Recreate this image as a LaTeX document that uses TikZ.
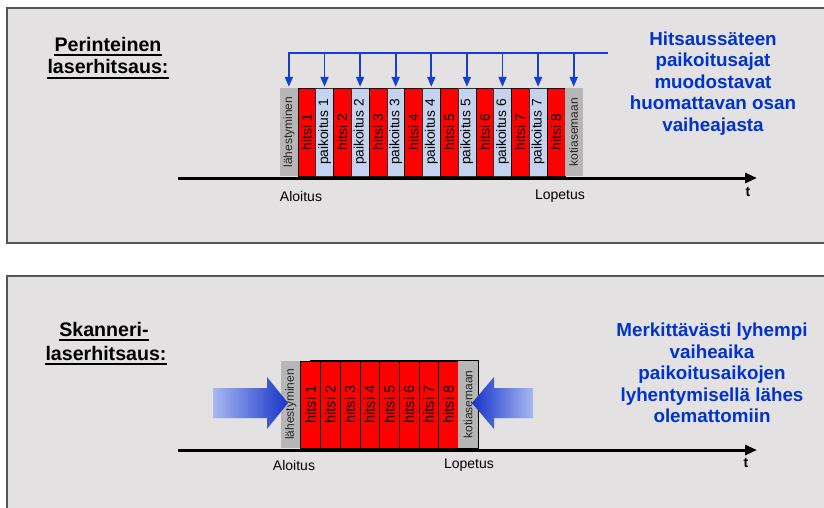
\documentclass[tikz,border=0pt]{standalone}
\usepackage{fontspec}
\setmainfont{Liberation Sans}
\usetikzlibrary{arrows.meta}

\definecolor{panelbg}{RGB}{227,225,226}
\definecolor{panelline}{RGB}{85,85,85}
\definecolor{weldred}{RGB}{255,0,0}
\definecolor{moveblue}{RGB}{197,211,238}
\definecolor{idlegray}{RGB}{182,182,182}
\definecolor{textblue}{RGB}{0,51,204}
\definecolor{arrowblue}{RGB}{20,64,208}
\definecolor{shadelight}{RGB}{168,184,242}
\definecolor{shadedark}{RGB}{22,52,200}

\tikzset{
  panel/.style={fill=panelbg, draw=panelline, line width=1.3pt},
  topbar/.style={minimum width=17.8pt, minimum height=88pt, inner sep=0pt,
    outer sep=0pt, anchor=north west},
  lowbar/.style={minimum width=19.7pt, minimum height=87pt, inner sep=0pt,
    outer sep=0pt, anchor=north west},
  idlebar/.style={fill=idlegray, text=black!85,
    font=\fontsize{12}{12}\selectfont},
  weldbar/.style={fill=weldred, draw=black, line width=0.6pt,
    font=\fontsize{13.8}{14}\selectfont},
  movebar/.style={fill=moveblue, draw=black!80, line width=0.6pt,
    font=\fontsize{13.8}{14}\selectfont},
  bigweld/.style={weldbar, font=\fontsize{14.5}{15}\selectfont},
  timeaxis/.style={line width=3pt, -{Triangle[width=10pt,length=12pt]}},
  rail/.style={draw=arrowblue, line width=1.8pt},
  drop/.style={draw=arrowblue, line width=1.8pt,
    -{Triangle[width=8pt,length=10pt]}, color=arrowblue},
  timelabel/.style={font=\fontsize{14}{14}\selectfont, inner sep=0pt},
  tlabel/.style={font=\bfseries\fontsize{14}{14}\selectfont, inner sep=0pt},
  heading/.style={font=\bfseries\fontsize{19.6}{22}\selectfont, inner sep=0pt,
    anchor=base},
  info/.style={font=\bfseries\fontsize{18.8}{21.5}\selectfont, text=textblue,
    align=center, inner sep=0pt, anchor=north},
  underl/.style={line width=1.9pt},
}

\begin{document}
\begin{tikzpicture}[x=1pt,y=-1pt]
\useasboundingbox (0,0) rectangle (824,508);
\clip (0,0) rectangle (824,508);

% background panels
\draw[panel] (7,8) rectangle (850,243);
\draw[panel] (7,276) rectangle (850,530);

% ---------- conventional laser welding ----------
\node[heading] (h1a) at (108,51.7) {Perinteinen};
\node[heading] (h1b) at (108,74) {laserhitsaus:};
\draw[underl] ([yshift=-3.6pt]h1a.base west) -- ([yshift=-3.6pt]h1a.base east);
\draw[underl] ([yshift=-3.6pt]h1b.base west) -- ([yshift=-3.6pt]h1b.base east);

\foreach \i/\sty/\txt in {0/idlebar/lähestyminen, 1/weldbar/hitsi 1,
    2/movebar/paikoitus 1, 3/weldbar/hitsi 2, 4/movebar/paikoitus 2,
    5/weldbar/hitsi 3, 6/movebar/paikoitus 3, 7/weldbar/hitsi 4,
    8/movebar/paikoitus 4, 9/weldbar/hitsi 5, 10/movebar/paikoitus 5,
    11/weldbar/hitsi 6, 12/movebar/paikoitus 6, 13/weldbar/hitsi 7,
    14/movebar/paikoitus 7, 15/weldbar/hitsi 8, 16/idlebar/kotiasemaan}
  \node[topbar, \sty] (t\i) at ({280+17.8*\i},88) {\rotatebox{90}{\txt}};

% positioning arrows
\coordinate (railend) at (608,52.7);
\draw[rail] ([xshift=-0.9pt]t0.north |- railend) -- (railend);
\foreach \i in {0,2,...,16}
  \draw[drop] (t\i.north |- railend) -- ([yshift=1.2pt]t\i.north);

\coordinate (ax0) at (178,178);
\coordinate (ax1) at (757,178);
\draw[timeaxis] (ax0) -- (ax1);
\node[timelabel] (start1) at (301,196) {Aloitus};
\node[timelabel] (stop1) at (560,196) {Lopetus};
\node[tlabel] (tt1) at (748,192) {t};

\node[info] (info1) at (713,31.5) {Hitsaussäteen\\paikoitusajat\\muodostavat\\huomattavan osan\\vaiheajasta};

% ---------- scanner laser welding ----------
\node[heading] (h2a) at (104,336.7) {Skanneri-};
\node[heading] (h2b) at (106,360) {laserhitsaus:};
\draw[underl] ([yshift=-3.6pt]h2a.base west) -- ([yshift=-3.6pt]h2a.base east);
\draw[underl] ([yshift=-3.6pt]h2b.base west) -- ([yshift=-3.6pt]h2b.base east);

% outline of the welding group
\draw[black, line width=0.9pt] (310,360) rectangle (478.6,448);

\foreach \i/\sty/\txt in {0/idlebar/lähestyminen, 1/bigweld/hitsi 1,
    2/bigweld/hitsi 2, 3/bigweld/hitsi 3, 4/bigweld/hitsi 4,
    5/bigweld/hitsi 5, 6/bigweld/hitsi 6, 7/bigweld/hitsi 7,
    8/bigweld/hitsi 8, 9/idlebar/kotiasemaan}
  \node[lowbar, \sty] (b\i) at ({281+19.7*\i},361) {\rotatebox{90}{\txt}};

% converging arrows
\shade[left color=shadelight, right color=shadedark]
  (213,388) -- (267,388) -- (267,377) -- (288,403) -- (267,429)
  -- (267,418) -- (213,418) -- cycle;
\shade[left color=shadedark, right color=shadelight]
  (533,388) -- (494,388) -- (494,377) -- (472,403) -- (494,429)
  -- (494,418) -- (533,418) -- cycle;

\coordinate (bx0) at (178,450);
\coordinate (bx1) at (757,450);
\draw[timeaxis] (bx0) -- (bx1);
\node[timelabel] (start2) at (294,465) {Aloitus};
\node[timelabel] (stop2) at (469,465) {Lopetus};
\node[tlabel] (tt2) at (746,463) {t};

\node[info] (info2) at (712,323) {Merkittävästi lyhempi\\vaiheaika\\paikoitusaikojen\\lyhentymisellä lähes\\olemattomiin};
\end{tikzpicture}
\end{document}
